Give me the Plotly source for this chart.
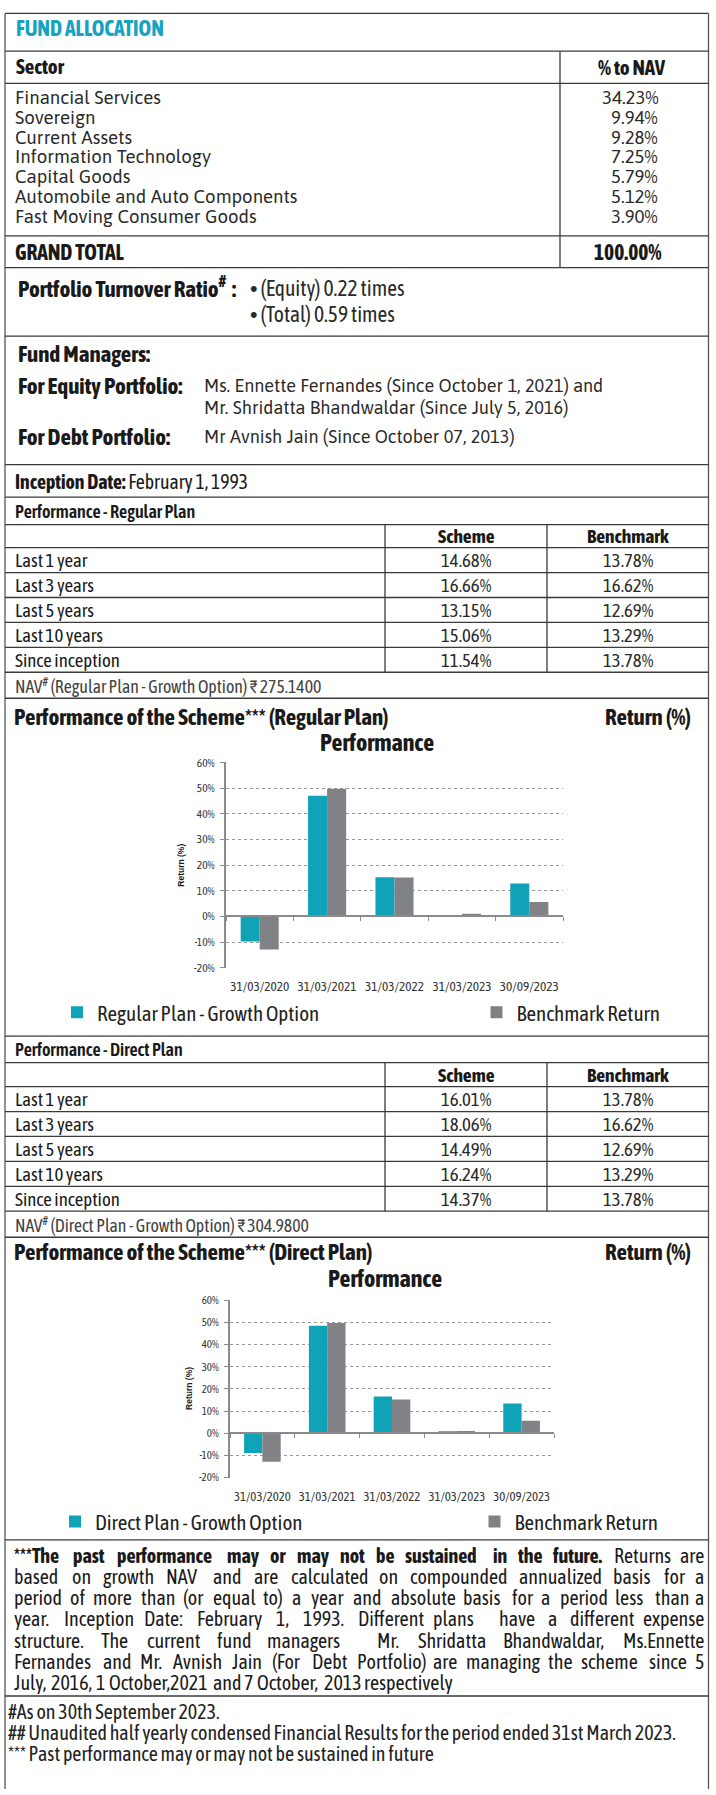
import plotly.graph_objects as go

W, H = 716, 1795

# ---------------- data ----------------
sectors = ["Financial Services", "Sovereign", "Current Assets", "Information Technology",
           "Capital Goods", "Automobile and Auto Components", "Fast Moving Consumer Goods"]
sector_pct = ["34.23%", "9.94%", "9.28%", "7.25%", "5.79%", "5.12%", "3.90%"]
grand_total = "100.00%"
turnover_items = ["(Equity) 0.22 times", "(Total) 0.59 times"]
managers_equity = ["Ms. Ennette Fernandes (Since October 1, 2021) and",
                   "Mr. Shridatta Bhandwaldar (Since July 5, 2016)"]
managers_debt = ["Mr Avnish Jain (Since October 07, 2013)"]
inception_date = "February 1, 1993"

periods = ["Last 1 year", "Last 3 years", "Last 5 years", "Last 10 years", "Since inception"]
reg_scheme = ["14.68%", "16.66%", "13.15%", "15.06%", "11.54%"]
reg_bench = ["13.78%", "16.62%", "12.69%", "13.29%", "13.78%"]
dir_scheme = ["16.01%", "18.06%", "14.49%", "16.24%", "14.37%"]
dir_bench = ["13.78%", "16.62%", "12.69%", "13.29%", "13.78%"]
reg_nav = "275.1400"
dir_nav = "304.9800"

chart_dates = ["31/03/2020", "31/03/2021", "31/03/2022", "31/03/2023", "30/09/2023"]
reg_growth = [-9.8, 47.0, 15.3, 0.2, 12.8]
dir_growth = [-8.9, 48.5, 16.6, 0.6, 13.4]
bench_return = [-12.9, 49.8, 15.2, 1.0, 5.6]
y_range = [-20, 60]
ytick_vals = [-20, -10, 0, 10, 20, 30, 40, 50, 60]
ytick_text = ["-20%", "-10%", "0%", "10%", "20%", "30%", "40%", "50%", "60%"]

disclaimer_bold = "***The past performance may or may not be sustained in the future."
disclaimer_lines = [
    "***The past performance may or may not be sustained in the future. Returns are",
    "based on growth NAV and are calculated on compounded annualized basis for a",
    "period of more than (or equal to) a year and absolute basis for a period less than a",
    "year. Inception Date: February 1, 1993. Different plans  have a different expense",
    "structure. The current fund managers  Mr. Shridatta Bhandwaldar, Ms.Ennette",
    "Fernandes and Mr. Avnish Jain (For Debt Portfolio) are managing the scheme since 5",
    "July, 2016, 1 October,2021 and 7 October, 2013 respectively",
]
footnotes = [
    "#As on 30th September 2023.",
    "## Unaudited half yearly condensed Financial Results for the period ended 31st March 2023.",
    "*** Past performance may or may not be sustained in future",
]

# ---------------- fonts & approximate metrics ----------------
FONT = "Asap Condensed, Liberation Sans Narrow, Liberation Sans, sans-serif"
FONT_WIDE = "Asap, Asap Condensed, Liberation Sans, sans-serif"
WF = 0.83

REG = dict(zip("ABCDEFGHIJKLMNOPQRSTUVWXYZ",
               [667, 667, 722, 722, 667, 611, 778, 722, 278, 500, 667, 556, 833, 722, 778, 667, 778, 722, 667, 611, 722, 667, 944, 667, 667, 611]))
REG.update(zip("abcdefghijklmnopqrstuvwxyz",
               [556, 556, 500, 556, 556, 278, 556, 556, 222, 222, 500, 222, 833, 556, 556, 556, 556, 333, 500, 278, 556, 500, 722, 500, 500, 500]))
REG.update({' ': 278, '#': 556, '%': 889, '(': 333, ')': 333, '*': 389, ',': 278, '-': 333, '.': 278, ':': 278})
BOLD = dict(zip("ABCDEFGHIJKLMNOPQRSTUVWXYZ",
                [722, 722, 722, 722, 667, 611, 778, 722, 278, 556, 722, 611, 833, 722, 778, 667, 778, 722, 667, 611, 722, 667, 944, 667, 667, 611]))
BOLD.update(zip("abcdefghijklmnopqrstuvwxyz",
                [556, 611, 556, 611, 556, 333, 611, 611, 278, 278, 556, 278, 889, 611, 611, 611, 611, 389, 556, 333, 611, 556, 778, 556, 556, 500]))
BOLD.update({' ': 278, '#': 556, '%': 889, '(': 333, ')': 333, '*': 389, ',': 278, '-': 333, '.': 278, ':': 333})


def tw(s, size, bold=False):
    tab = BOLD if bold else REG
    return sum(tab.get(c, 556) for c in s) / 1000.0 * size * WF


TEAL = "#10a3b8"
GREYBAR = "#818286"
TITLE_TEAL = "#17a3c0"
LINE = "#3a3a3a"
TXT = "#1a1a1a"
XL, XR = 5, 708.5
BULLET = '<span style="font-family:Liberation Sans">\u2022</span>'

ann, shapes = [], []


def T(x, y, s, size, color=TXT, anchor='left', bold=False, angle=0, family=None, weight=None):
    if bold:
        s = "<b>%s</b>" % s
    f = dict(size=size, color=color, family=family or FONT)
    if weight:
        f['weight'] = weight
    ann.append(dict(x=x / W, y=1 - y / H, xref='paper', yref='paper', text=s, showarrow=False,
                    xanchor=anchor, yanchor='middle', borderpad=0, textangle=angle, font=f))


def HL(y, x0=XL, x1=XR, w=1.3, c=LINE):
    shapes.append(dict(type='line', xref='paper', yref='paper', x0=x0 / W, x1=x1 / W,
                       y0=1 - y / H, y1=1 - y / H, line=dict(color=c, width=w)))


def VL(x, y0, y1, w=1.3, c=LINE):
    shapes.append(dict(type='line', xref='paper', yref='paper', x0=x / W, x1=x / W,
                       y0=1 - y0 / H, y1=1 - y1 / H, line=dict(color=c, width=w)))


# ---------------- outer frame & fund allocation ----------------
HL(6.5)
VL(XL, 6.5, H, c="#555")
VL(XR, 6.5, H, c="#555")
T(15, 22, "FUND ALLOCATION", 21.5, color=TITLE_TEAL, bold=True)
HL(44.5)
T(15, 59.5, "Sector", 21, bold=True)
T(632, 60.5, "% to NAV", 21, bold=True, anchor='center')
HL(77)
for i, (s, p) in enumerate(zip(sectors, sector_pct)):
    yc = 91 + 20 * i
    T(14, yc, s, 18.6, color="#2a2a2a", family=FONT_WIDE)
    T(659, yc, p, 18.6, color="#2a2a2a", anchor='right', family=FONT_WIDE)
HL(230.5)
T(14, 247.5, "GRAND TOTAL", 21.5, bold=True)
T(663, 247.5, grand_total, 21.5, bold=True, anchor='right')
HL(262.5)
VL(560, 44.5, 262.5)

T(16.5, 282.5, "Portfolio Turnover Ratio<sup>#</sup>\u00a0\u00a0:", 23, bold=True)
T(249, 283.5, BULLET + " " + turnover_items[0], 21.5, color="#2a2a2a")
T(249, 309.5, BULLET + " " + turnover_items[1], 21.5, color="#2a2a2a")
HL(331.5)

T(17, 349.5, "Fund Managers:", 23, bold=True)
T(17, 381.5, "For Equity Portfolio:", 23, bold=True)
T(203, 381.5, managers_equity[0], 18, color="#2a2a2a", family=FONT_WIDE)
T(203, 403, managers_equity[1], 18, color="#2a2a2a", family=FONT_WIDE)
T(17, 433, "For Debt Portfolio:", 23, bold=True)
T(203, 433, managers_debt[0], 18, color="#2a2a2a", family=FONT_WIDE)
HL(461)
T(14, 478, "<b>Inception Date:</b> " + inception_date, 19.8)


# ---------------- performance tables ----------------
def perf_table(top, title_y, hdr, title, scheme, bench, nav_label, nav_value):
    HL(top)
    T(14, title_y, title, 18, weight=600)
    HL(hdr)
    r0 = top + 50.8
    T(466, (hdr + r0) / 2, "Scheme", 19.5, bold=True, anchor='center')
    T(628, (hdr + r0) / 2, "Benchmark", 19.5, bold=True, anchor='center')
    rh = 25.1
    for i in range(len(periods) + 1):
        HL(r0 + i * rh)
    for i, (p, s, b) in enumerate(zip(periods, scheme, bench)):
        yc = r0 + i * rh + rh / 2
        T(14, yc, p, 18.8)
        T(466, yc, s, 18.8, color="#2a2a2a", anchor='center')
        T(628, yc, b, 18.8, color="#2a2a2a", anchor='center')
    bottom = r0 + len(periods) * rh
    VL(385, hdr, bottom)
    VL(547, hdr, bottom)
    T(14, bottom + 13, "NAV<sup>#</sup> (%s) \u20b9 %s" % (nav_label, nav_value), 17.8, color="#444")
    HL(bottom + 26.2)


perf_table(493.8, 508.5, 521.5, "Performance - Regular Plan", reg_scheme, reg_bench,
           "Regular Plan - Growth Option", reg_nav)
perf_table(1036.7, 1050, 1063.3, "Performance - Direct Plan", dir_scheme, dir_bench,
           "Direct Plan - Growth Option", dir_nav)

# ---------------- charts ----------------
fig = go.Figure()
layout_axes = {}


def chart(k, x0, x1, ytop, ybot, growth, gname, legkey, legx, legy, title_xy, ytitle_xy, fs, tlen):
    xa, xz, ya = ('x', 'x2', 'y') if k == 1 else ('x3', 'x4', 'y2')
    fig.add_trace(go.Bar(x=chart_dates, y=growth, name=gname, marker=dict(color=TEAL, line=dict(width=0)),
                         xaxis=xa, yaxis=ya, legend=legkey, legendwidth=374.5, hoverinfo='skip'))
    fig.add_trace(go.Bar(x=chart_dates, y=bench_return, name="Benchmark Return",
                         marker=dict(color=GREYBAR, line=dict(width=0)),
                         xaxis=xa, yaxis=ya, legend=legkey, hoverinfo='skip'))
    fig.add_trace(go.Scatter(x=[], y=[], xaxis=xz, yaxis=ya, showlegend=False, hoverinfo='skip'))
    dom_x = [x0 / W, x1 / W]
    dom_y = [1 - ybot / H, 1 - ytop / H]
    zero_pos = dom_y[0] + (0 - y_range[0]) / (y_range[1] - y_range[0]) * (dom_y[1] - dom_y[0])
    n = len(chart_dates)
    bounds = [i - 0.5 for i in range(n + 1)]
    layout_axes['xaxis' + xa[1:]] = dict(domain=dom_x, anchor=ya, type='category', range=[-0.5, n - 0.5],
                                         showline=False, showgrid=False, zeroline=False, ticks='outside',
                                         ticklen=tlen, tickcolor='rgba(0,0,0,0)',
                                         tickfont=dict(family=FONT, size=fs + 1.8, color='#333'))
    layout_axes['xaxis' + xz[1:]] = dict(domain=dom_x, overlaying=xa, anchor='free', position=zero_pos,
                                         range=[-0.5, n - 0.5], tickvals=bounds, showticklabels=False,
                                         ticks='outside', ticklen=4, tickwidth=1.3, tickcolor='#8a8a8a',
                                         showline=True, linecolor='#8a8a8a', linewidth=2,
                                         showgrid=False, zeroline=False)
    layout_axes['yaxis' + ya[1:]] = dict(domain=dom_y, anchor=xa, range=y_range, tickvals=ytick_vals,
                                         ticktext=ytick_text, showgrid=True, gridcolor='#9a9a9a',
                                         griddash='dot', gridwidth=1.3, showline=True,
                                         linecolor='#8a8a8a', linewidth=2, ticks='outside', ticklen=4,
                                         tickcolor='#8a8a8a', zeroline=False, ticklabelstandoff=3,
                                         tickfont=dict(family=FONT, size=fs, color='#333'))
    T(title_xy[0], title_xy[1], "Performance", 24, bold=True, anchor='center')
    T(ytitle_xy[0], ytitle_xy[1], "Return (%)", 8.5, bold=True, anchor='center', angle=-90,
      family="Liberation Sans, Arial, sans-serif")
    layout_axes[legkey] = dict(orientation='h', x=legx / W, y=1 - legy / H, xanchor='left', yanchor='middle',
                               font=dict(family=FONT, size=21, color='#222'),
                               bgcolor='rgba(0,0,0,0)', tracegroupgap=0)


T(13, 715, "Performance of the Scheme*** (Regular Plan)", 23, bold=True)
T(692, 715, "Return (%)", 23, bold=True, anchor='right')
chart(1, 226, 563, 761, 967.7, reg_growth, "Regular Plan - Growth Option", 'legend', 57, 1013,
      (377, 741), (181, 865), 11.5, 6)

T(13, 1254, "Performance of the Scheme*** (Direct Plan)", 23, bold=True)
T(692, 1254, "Return (%)", 23, bold=True, anchor='right')
chart(2, 230, 554, 1302.7, 1481.3, dir_growth, "Direct Plan - Growth Option", 'legend2', 55, 1526,
      (385, 1281), (189, 1392), 11, 7)
HL(1544)

# ---------------- disclaimer (justified) ----------------
DS = 20
x0, x1 = 12.7, 705
nb = len(disclaimer_bold.split(' '))
for li, line in enumerate(disclaimer_lines):
    toks = line.split(' ')
    flags = [(li == 0 and j < nb) for j in range(len(toks))]
    widths = [tw(t, DS, b) for t, b in zip(toks, flags)]
    last = li == len(disclaimer_lines) - 1
    gap = 0.75 * tw(' ', DS) if last else (x1 - x0 - sum(widths)) / (len(toks) - 1)
    x = x0
    yc = 1560 + 21.25 * li
    for j, (t, b, wd) in enumerate(zip(toks, flags, widths)):
        if t:
            if (not last) and j == len(toks) - 1:
                T(x1, yc, t, DS, color="#1a1a1a", bold=b, anchor='right')
            else:
                T(x, yc, t, DS, color="#1a1a1a", bold=b)
        x += wd + gap
HL(1701.3)
for i, f in enumerate(footnotes):
    T(6.5, 1716.7 + 21.4 * i, f, 20, color="#222")

fig.update_layout(width=W, height=H, margin=dict(l=0, r=0, t=0, b=0), paper_bgcolor='white',
                  plot_bgcolor='white', barmode='group', bargap=0.435, bargroupgap=0,
                  annotations=ann, shapes=shapes, **layout_axes)
fig.write_html("out.html", config={'displayModeBar': False},
               post_script="document.body.style.margin='0';document.body.style.padding='0';")
